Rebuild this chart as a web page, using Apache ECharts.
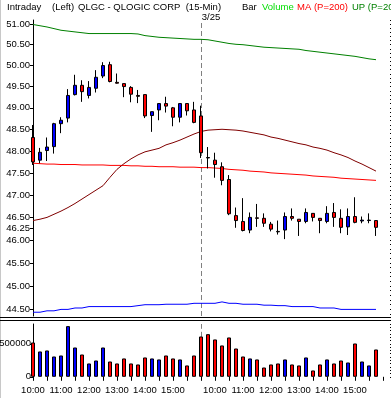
<!DOCTYPE html>
<html><head><meta charset="utf-8">
<script src="https://cdn.jsdelivr.net/npm/echarts@6/dist/echarts.min.js"></script>
<style>html,body{margin:0;padding:0;background:#fff}#c{width:391px;height:398px}</style>
</head><body><div id="c"></div>
<script>
// ---- data ----
const times = ['10:00','10:15','10:30','10:45','11:00','11:15','11:30','11:45','12:00','12:15','12:30','12:45',
  '13:00','13:15','13:30','13:45','14:00','14:15','14:30','14:45','15:00','15:15','15:30','15:45',
  '9:30','9:45','10:00','10:15','10:30','10:45','11:00','11:15','11:30','11:45','12:00','12:15','12:30','12:45',
  '13:00','13:15','13:30','13:45','14:00','14:15','14:30','14:45','15:00','15:15','15:30','15:45'];
const opens  = [48.31,47.79,48.01,48.10,48.63,48.76,49.31,49.53,49.29,49.46,49.75,50.02,49.60,49.57,49.48,49.29,49.31,48.82,48.95,49.10,49.00,48.78,49.10,48.95,
  48.81,47.85,47.79,47.64,47.35,46.54,46.41,46.22,46.49,46.48,46.35,46.19,46.22,46.52,46.46,46.41,46.59,46.48,46.41,46.61,46.48,46.29,46.52,46.42,46.43,46.43];
const closes = [47.75,47.97,48.09,48.63,48.71,49.29,49.53,49.38,49.48,49.72,50.00,49.62,49.58,49.50,49.32,49.27,48.81,48.91,49.10,49.04,48.78,49.10,48.93,48.66,
  47.96,47.84,47.69,47.33,46.58,46.43,46.21,46.50,46.48,46.37,46.24,46.18,46.52,46.48,46.41,46.61,46.50,46.43,46.59,46.50,46.28,46.52,46.39,46.44,46.44,46.28];
const lows   = [47.68,47.72,47.77,47.94,48.41,48.66,49.29,49.14,49.22,49.36,49.70,49.60,49.57,49.25,49.13,49.11,48.76,48.44,48.71,48.89,48.57,48.66,48.82,48.64,
  47.84,47.60,47.39,47.22,46.55,46.27,46.19,46.15,46.29,46.29,46.19,46.12,46.02,46.43,46.09,46.37,46.41,46.15,46.37,46.29,46.15,46.11,46.37,46.37,46.37,46.09];
const highs  = [48.60,48.07,48.31,48.65,48.78,49.44,49.78,49.65,49.63,49.89,50.08,50.09,49.81,49.57,49.51,49.42,49.31,48.91,49.10,49.26,49.02,49.10,49.10,49.14,
  49.05,48.09,47.96,47.74,47.45,46.72,46.93,46.61,46.80,46.59,46.40,46.43,46.61,46.70,46.46,46.70,46.59,46.48,46.75,46.82,46.68,46.70,46.95,46.52,46.59,46.43];
const volumes = [520000,384000,399000,308000,323000,768000,444000,338000,202000,247000,444000,232000,202000,278000,202000,187000,293000,278000,263000,323000,278000,263000,172000,323000,
  611000,646000,566000,475000,596000,429000,308000,278000,263000,141000,187000,202000,263000,187000,172000,293000,96000,187000,263000,202000,247000,217000,505000,232000,172000,414000];
const upBand = [50.99,50.96,50.93,50.89,50.85,50.83,50.81,50.79,50.77,50.77,50.77,50.77,50.77,50.77,50.77,50.76,50.72,50.70,50.68,50.67,50.66,50.65,50.64,50.63,
  50.63,50.62,50.59,50.56,50.53,50.51,50.50,50.48,50.46,50.44,50.43,50.42,50.41,50.40,50.39,50.36,50.34,50.32,50.30,50.28,50.26,50.24,50.22,50.19,50.16,50.14];
const maLine = [47.72,47.71,47.70,47.70,47.69,47.69,47.69,47.68,47.68,47.68,47.68,47.67,47.67,47.67,47.66,47.66,47.65,47.65,47.64,47.64,47.64,47.63,47.63,47.63,
  47.62,47.62,47.61,47.60,47.58,47.57,47.56,47.54,47.53,47.52,47.50,47.49,47.48,47.47,47.46,47.45,47.43,47.42,47.41,47.40,47.38,47.37,47.36,47.35,47.34,47.33];
const midLine = [46.43,46.46,46.50,46.57,46.64,46.72,46.81,46.91,47.01,47.11,47.21,47.40,47.58,47.71,47.82,47.91,47.98,48.02,48.06,48.14,48.19,48.25,48.32,48.39,
  48.45,48.48,48.49,48.50,48.49,48.48,48.46,48.43,48.40,48.37,48.32,48.29,48.25,48.21,48.17,48.14,48.09,48.06,48.02,47.96,47.91,47.85,47.77,47.70,47.62,47.54];
const lowLine = [44.44,44.44,44.47,44.47,44.50,44.50,44.53,44.53,44.56,44.56,44.56,44.56,44.56,44.56,44.56,44.58,44.60,44.60,44.60,44.61,44.61,44.61,44.61,44.63,
  44.63,44.63,44.63,44.66,44.63,44.63,44.61,44.61,44.61,44.59,44.59,44.58,44.58,44.56,44.56,44.56,44.56,44.53,44.53,44.53,44.50,44.50,44.50,44.50,44.50,44.50];
const priceTicks = [51.00,50.50,50.00,49.50,49.00,48.50,48.00,47.50,47.00,46.50,46.25,46.00,45.50,45.00,44.50];
const volumeTicks = [0, 500000];
const dayBreak = '9:30';
const dayLabel = '3/25';
const priceMin = 44.36, priceMax = 51.10, volMax = 800000;

// ---- derived ----
const priceMinor = []; for (let v = 444; v <= 511; v++) priceMinor.push(v / 10);
const volMinor = []; for (let v = 0; v <= 800000; v += 50000) volMinor.push(v);
const categories = times.concat(['', '']);
const breakIdx = times.indexOf(dayBreak);
const candleData = opens.map((o, i) => [o, closes[i], lows[i], highs[i]]);
const volData = volumes.map((v, i) => ({ value: v, itemStyle: { color: closes[i] > opens[i] ? '#0000ff' : '#ff0000' } }));

const F = "'Liberation Sans Narrow','Arial Narrow','Liberation Sans',Arial,sans-serif";
const FS = 9.5;
const FONT = FS + 'px ' + F;

const chart = echarts.init(document.getElementById('c'));
const lineS = (data, color) => ({ type: 'line', xAxisIndex: 0, yAxisIndex: 0, data: data, symbol: 'none', showSymbol: false,
  lineStyle: { color: color, width: 1 }, silent: true, z: 2 });

chart.setOption({
  animation: false,
  backgroundColor: '#fff',
  grid: [
    { left: 33, right: 1, top: 20, height: 296, containLabel: false, outerBoundsMode: 'none' },
    { left: 33, right: 1, top: 324, height: 52.8, containLabel: false, outerBoundsMode: 'none' }
  ],
  xAxis: [
    { type: 'category', gridIndex: 0, data: categories, boundaryGap: false,
      axisLine: { show: false }, axisTick: { show: false }, axisLabel: { show: false }, splitLine: { show: false } },
    { type: 'category', gridIndex: 1, data: categories, boundaryGap: false,
      axisLine: { show: false },
      axisTick: { show: true, interval: 1, length: 4, lineStyle: { color: '#000' } },
      axisLabel: { interval: (i, v) => /:00$/.test(v), color: '#000', fontFamily: F, fontSize: FS, margin: 9 },
      splitLine: { show: false } }
  ],
  yAxis: [
    { type: 'log', gridIndex: 0, min: priceMin, max: priceMax,
      axisLine: { show: true, lineStyle: { color: '#000', width: 1 } },
      axisTick: { show: true, customValues: priceTicks, length: 3, lineStyle: { color: '#000' } },
      axisLabel: { customValues: priceTicks, formatter: v => Number(v).toFixed(2), color: '#000', fontFamily: F, fontSize: FS, margin: 3 },
      splitLine: { show: false } },
    { type: 'log', gridIndex: 0, min: priceMin, max: priceMax,
      axisLine: { show: false },
      axisTick: { show: true, customValues: priceMinor, length: 2, lineStyle: { color: '#000' } },
      axisLabel: { show: false }, splitLine: { show: false } },
    { type: 'value', gridIndex: 1, min: 0, max: volMax,
      axisLine: { show: true, lineStyle: { color: '#000', width: 1 } },
      axisTick: { show: true, customValues: volumeTicks, length: 3, lineStyle: { color: '#000' } },
      axisLabel: { customValues: volumeTicks, formatter: v => String(Math.round(v)), color: '#000', fontFamily: F, fontSize: FS, margin: 2 },
      splitLine: { show: false } },
    { type: 'value', gridIndex: 1, min: 0, max: volMax,
      axisLine: { show: false },
      axisTick: { show: true, customValues: volMinor, length: 2, lineStyle: { color: '#000' } },
      axisLabel: { show: false }, splitLine: { show: false } }
  ],
  series: [
    lineS(upBand, '#008000'),
    lineS(maLine, '#ff0000'),
    lineS(midLine, '#800000'),
    lineS(lowLine, '#0000ff'),
    { type: 'candlestick', xAxisIndex: 0, yAxisIndex: 0, data: candleData, barWidth: 4, z: 3,
      itemStyle: { color: '#0000ff', color0: '#ff0000', borderColor: '#000', borderColor0: '#000', borderWidth: 1 },
      markLine: { silent: true, symbol: 'none', z: 1, animation: false,
        lineStyle: { color: '#808080', type: [5, 3], width: 1 },
        label: { show: true, position: 'end', formatter: dayLabel, color: '#000', fontFamily: F, fontSize: FS, distance: 1, offset: [10, 3] },
        data: [{ xAxis: breakIdx }] } },
    { type: 'bar', xAxisIndex: 1, yAxisIndex: 2, data: volData, barWidth: 4, z: 3,
      itemStyle: { borderColor: '#000', borderWidth: 1 },
      markLine: { silent: true, symbol: 'none', z: 1, animation: false,
        lineStyle: { color: '#808080', type: [5, 3], width: 1 }, label: { show: false },
        data: [{ xAxis: breakIdx }] } }
  ],
  graphic: [
    { type: 'line', shape: { x1: 0.5, y1: 0, x2: 0.5, y2: 398 }, style: { stroke: '#c8c8c8', lineWidth: 1 } },
    { type: 'line', shape: { x1: 0, y1: 317.5, x2: 391, y2: 317.5 }, style: { stroke: '#000', lineWidth: 1 } },
    { type: 'line', shape: { x1: 0, y1: 320.5, x2: 391, y2: 320.5 }, style: { stroke: '#000', lineWidth: 1 } },
    { type: 'text', x: 7, y: 7, style: { text: 'Intraday', fill: '#000', font: FONT, verticalAlign: 'middle' } },
    { type: 'text', x: 52, y: 7, style: { text: '(Left)', fill: '#000', font: FONT, verticalAlign: 'middle' } },
    { type: 'text', x: 78, y: 7, style: { text: 'QLGC - QLOGIC CORP  (15-Min)', fill: '#000', font: FONT, verticalAlign: 'middle' } },
    { type: 'text', x: 242, y: 7, style: { text: 'Bar', fill: '#000', font: FONT, verticalAlign: 'middle' } },
    { type: 'text', x: 262, y: 7, style: { text: 'Volume', fill: '#00dd00', font: FONT, verticalAlign: 'middle' } },
    { type: 'text', x: 297, y: 7, style: { text: 'MA (P=200)', fill: '#ff0000', font: FONT, verticalAlign: 'middle' } },
    { type: 'text', x: 352, y: 7, style: { text: 'UP (P=200', fill: '#008000', font: FONT, verticalAlign: 'middle' } }
  ]
});
</script></body></html>
